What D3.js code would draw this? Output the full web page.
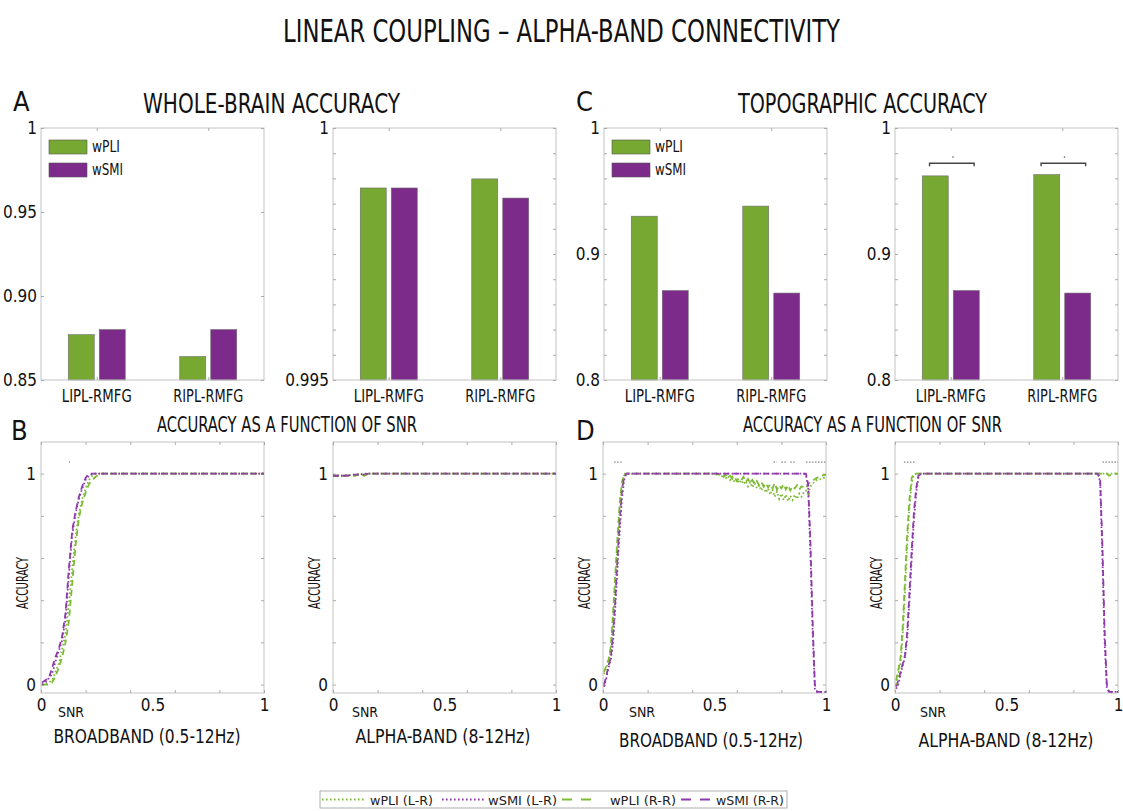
<!DOCTYPE html>
<html>
<head>
<meta charset="utf-8">
<script src="https://cdn.jsdelivr.net/npm/d3@7"></script>
<style>
  body { margin: 0; background: #fff; }
  text {
    font-family: 'Liberation Sans Narrow', 'DejaVu Sans Condensed', 'Liberation Sans', sans-serif;
    font-stretch: condensed;
    fill: #111;
  }
  .legend text { font-family: 'DejaVu Sans', sans-serif; font-stretch: normal; fill: #222; }
</style>
</head>
<body>
<svg id="chart"></svg>
<script>
// Categories and series names
const categories = ['LIPL-RMFG', 'RIPL-RMFG'];
const barSeries = ['wPLI', 'wSMI'];

// A: whole-brain accuracy (left and right sub-panels)
const wholeBrainLeftWPLI = [0.877, 0.864];
const wholeBrainLeftWSMI = [0.880, 0.880];
const wholeBrainRightWPLI = [0.99881, 0.99899];
const wholeBrainRightWSMI = [0.99881, 0.99861];

// C: topographic accuracy
const topoLeftWPLI = [0.930, 0.938];
const topoLeftWSMI = [0.871, 0.869];
const topoRightWPLI = [0.962, 0.963];
const topoRightWSMI = [0.871, 0.869];
const topoRightSignificant = [true, true];

// Bar panel y ticks and labels
const ticksA1 = [0.85, 0.9, 0.95, 1];
const labelsA1 = ['0.85', '0.90', '0.95', '1'];
const ticksA2 = [0.995, 0.9955, 0.996, 0.9965, 0.997, 0.9975, 0.998, 0.9985, 0.999, 0.9995, 1];
const labelsA2 = ['0.995', '', '', '', '', '', '', '', '', '', '1'];
const ticksC = [0.8, 0.82, 0.84, 0.86, 0.88, 0.9, 0.92, 0.94, 0.96, 0.98, 1];
const labelsC = ['0.8', '', '', '', '', '0.9', '', '', '', '', '1'];

// Line panel ticks
const snrTicks = [0, 0.2, 0.4, 0.6, 0.8, 1];
const snrLabels = [0, 0.5, 1];
const accTicks = [0, 0.2, 0.4, 0.6, 0.8, 1];
const accLabels = [0, 1];

// B, broadband
const snrB = [0.005, 0.02, 0.035, 0.05, 0.065, 0.08, 0.095, 0.11, 0.125, 0.14, 0.155, 0.17, 0.185, 0.2,
  0.215, 0.23, 0.245, 0.26, 0.275, 0.29, 0.3, 0.4, 0.5, 0.6, 0.7, 0.8, 0.9, 1.0];
const bBroadPliLR = [0, 0, 0.01, 0.02, 0.06, 0.10, 0.17, 0.24, 0.38, 0.55, 0.70, 0.81, 0.88, 0.93,
  0.97, 0.99, 1, 1, 1, 1, 1, 1, 1, 1, 1, 1, 1, 1];
const bBroadSmiLR = [0, 0.01, 0.03, 0.05, 0.11, 0.16, 0.21, 0.31, 0.52, 0.71, 0.81, 0.88, 0.93, 0.97,
  0.99, 1, 1, 1, 1, 1, 1, 1, 1, 1, 1, 1, 1, 1];
const bBroadPliRR = [0, 0, 0, 0.01, 0.04, 0.08, 0.13, 0.20, 0.30, 0.48, 0.66, 0.79, 0.86, 0.91,
  0.95, 0.97, 0.985, 0.995, 1, 1, 1, 1, 1, 1, 1, 1, 1, 1];
const bBroadSmiRR = [0.01, 0.02, 0.03, 0.08, 0.13, 0.17, 0.23, 0.34, 0.55, 0.73, 0.82, 0.89, 0.94, 0.98,
  1, 1, 1, 1, 1, 1, 1, 1, 1, 1, 1, 1, 1, 1];
const sigBBroad = [[0.125, 0.13]];

// B, alpha-band
const snrBAlpha = [0, 0.05, 0.1, 0.12, 0.14, 0.16, 0.18, 0.2, 0.4, 0.6, 0.8, 1.0];
const bAlphaPliLR = [0.99, 0.99, 0.995, 1.0, 0.995, 1.0, 1, 1, 1, 1, 1, 1];
const bAlphaSmiLR = [0.99, 0.99, 0.995, 0.995, 1, 1, 1, 1, 1, 1, 1, 1];
const bAlphaPliRR = [0.99, 0.99, 0.99, 1.0, 0.99, 1.0, 1, 1, 1, 1, 1, 1];
const bAlphaSmiRR = [0.99, 0.99, 0.995, 0.995, 0.995, 1, 1, 1, 1, 1, 1, 1];
const sigBAlpha = [];

// D, broadband (finer SNR grid where wPLI fluctuates)
const snrDBroad = [0.005, 0.015, 0.025, 0.035, 0.045, 0.055, 0.065, 0.075, 0.085, 0.095, 0.105, 0.115,
  0.2, 0.3, 0.4,
  0.5, 0.51, 0.52, 0.53, 0.54, 0.55, 0.56, 0.57, 0.58, 0.59, 0.6, 0.61, 0.62, 0.63, 0.64, 0.65, 0.66, 0.67, 0.68, 0.69,
  0.7, 0.71, 0.72, 0.73, 0.74, 0.75, 0.76, 0.77, 0.78, 0.79, 0.8, 0.81, 0.82, 0.83, 0.84, 0.85, 0.86, 0.87, 0.88, 0.89, 0.9,
  0.91, 0.92, 0.93, 0.94, 0.95, 0.96, 0.98, 1.0];
const dBroadPliLR = [0.05, 0.08, 0.11, 0.16, 0.30, 0.48, 0.66, 0.82, 0.94, 0.99, 1, 1,
  1, 1, 1,
  1.0, 0.995, 1.0, 0.985, 0.995, 0.975, 0.99, 0.97, 0.985, 0.96, 0.975, 0.955, 0.97, 0.95, 0.965, 0.94, 0.96, 0.935, 0.955, 0.93,
  0.945, 0.92, 0.94, 0.91, 0.93, 0.9, 0.925, 0.89, 0.915, 0.88, 0.905, 0.875, 0.9, 0.87, 0.895, 0.875, 0.9, 0.88, 0.905, 0.89, 0.91,
  0.92, 0.905, 0.94, 0.95, 0.965, 0.97, 0.975, 0.985];
const dBroadPliRR = [0.06, 0.09, 0.12, 0.18, 0.34, 0.52, 0.70, 0.86, 0.96, 1, 1, 1,
  1, 1, 1,
  1.0, 1.0, 0.995, 1.0, 0.985, 0.995, 0.98, 0.99, 0.975, 0.985, 0.965, 0.98, 0.97, 0.985, 0.96, 0.975, 0.955, 0.97, 0.95, 0.965,
  0.945, 0.96, 0.94, 0.955, 0.935, 0.95, 0.93, 0.955, 0.925, 0.945, 0.93, 0.95, 0.925, 0.945, 0.92, 0.94, 0.93, 0.945, 0.925, 0.94, 0.935,
  0.93, 0.95, 0.96, 0.965, 0.975, 0.98, 0.99, 0.995];
const dBroadSmiLR = [-0.01, 0.03, 0.08, 0.12, 0.20, 0.36, 0.55, 0.73, 0.88, 0.97, 1, 1,
  1, 1, 1,
  1, 1, 1, 1, 1, 1, 1, 1, 1, 1, 1, 1, 1, 1, 1, 1, 1, 1, 1, 1,
  1, 1, 1, 1, 1, 1, 1, 1, 1, 1, 1, 1, 1, 1, 1, 1, 1, 1, 1, 1, 1,
  0.995, 0.93, 0.62, 0.25, -0.02, -0.035, -0.035, -0.035];
const dBroadSmiRR = [0.0, 0.04, 0.09, 0.13, 0.24, 0.40, 0.60, 0.78, 0.92, 0.99, 1, 1,
  1, 1, 1,
  1, 1, 1, 1, 1, 1, 1, 1, 1, 1, 1, 1, 1, 1, 1, 1, 1, 1, 1, 1,
  1, 1, 1, 1, 1, 1, 1, 1, 1, 1, 1, 1, 1, 1, 1, 1, 1, 1, 1, 1, 1,
  1, 0.95, 0.68, 0.30, 0.0, -0.035, -0.035, -0.035];
const sigDBroad = [[0.05, 0.085], [0.765, 0.78], [0.8, 0.825], [0.84, 0.86], [0.91, 1.0]];

// D, alpha-band
const snrDAlpha = [0.005, 0.015, 0.025, 0.035, 0.045, 0.055, 0.065, 0.075, 0.085, 0.095, 0.105, 0.115,
  0.2, 0.3, 0.4, 0.5, 0.6, 0.7, 0.8, 0.9,
  0.91, 0.92, 0.93, 0.94, 0.95, 0.96, 0.98, 1.0];
const dAlphaPliLR = [0.0, 0.05, 0.10, 0.24, 0.44, 0.66, 0.84, 0.96, 0.995, 1, 1, 1,
  1, 1, 1, 1, 1, 1, 1, 1,
  1, 1, 1, 1, 1, 1, 1, 1];
const dAlphaPliRR = [0.02, 0.07, 0.13, 0.28, 0.50, 0.72, 0.88, 0.98, 1, 1, 1, 1,
  1, 1, 1, 1, 1, 1, 1, 1,
  1, 1, 1, 1, 1, 0.99, 1, 1];
const dAlphaSmiLR = [-0.02, 0.0, 0.05, 0.09, 0.13, 0.22, 0.40, 0.60, 0.78, 0.91, 0.98, 1,
  1, 1, 1, 1, 1, 1, 1, 1,
  1, 0.96, 0.6, 0.2, -0.02, -0.035, -0.035, -0.035];
const dAlphaSmiRR = [-0.01, 0.02, 0.06, 0.10, 0.14, 0.25, 0.44, 0.64, 0.82, 0.93, 0.99, 1,
  1, 1, 1, 1, 1, 1, 1, 1,
  1, 0.97, 0.66, 0.25, 0.0, -0.035, -0.035, -0.035];
const sigDAlpha = [[0.04, 0.095], [0.93, 1.0]];
const sigLevel = 1.055;

// Colours and line styles
const barGreen = '#77a832';
const barPurple = '#7c2b8b';
const lineGreen = '#7dbb36';
const linePurple = '#8e3aab';
const axisColor = '#c3c3c3';
const dotted = '1.6 2.4';
const dashed = '6 4';

const W = 1123;
const H = 811;

const svg = d3.select('#chart').attr('width', W).attr('height', H);

// Helper for text with a fixed drawn width
function label(x, y, str, size, width, anchor = 'middle') {
  const t = svg.append('text')
    .attr('x', x)
    .attr('y', y)
    .attr('text-anchor', anchor)
    .attr('font-size', size)
    .text(str);
  if (width) t.attr('textLength', width).attr('lengthAdjust', 'spacingAndGlyphs');
  return t;
}

// Box with inward ticks on all four sides
function drawFrame(g, x, y, xTicks, yTicks) {
  const [x0, x1] = x.range();
  const [y1, y0] = y.range();
  g.append('rect')
    .attr('x', x0).attr('y', y0)
    .attr('width', x1 - x0).attr('height', y1 - y0)
    .attr('fill', 'none').attr('stroke', axisColor);

  const tickAxes = [
    [d3.axisBottom(x).tickValues(xTicks), `translate(0,${y0})`],
    [d3.axisTop(x).tickValues(xTicks), `translate(0,${y1})`],
    [d3.axisRight(y).tickValues(yTicks), `translate(${x0},0)`],
    [d3.axisLeft(y).tickValues(yTicks), `translate(${x1},0)`]
  ];
  tickAxes.forEach(([axis, tr]) => {
    const a = g.append('g')
      .attr('transform', tr)
      .call(axis.tickSize(3).tickFormat(''));
    a.select('.domain').remove();
    a.selectAll('line').attr('stroke', '#aaa');
  });
}

// Labelled y axis with no line
function drawYLabels(g, y, x0, values, fmt, size) {
  const a = g.append('g')
    .attr('transform', `translate(${x0},0)`)
    .call(d3.axisLeft(y).tickValues(values).tickFormat(fmt).tickSize(0).tickPadding(4));
  a.select('.domain').remove();
  a.selectAll('text')
    .attr('font-family', null)
    .attr('font-size', size)
    .attr('fill', '#111');
  return a;
}

// Grouped bar panel
function drawBarPanel(p) {
  const g = svg.append('g');
  const x = d3.scaleLinear().domain([0.5, 2.5]).range([p.left, p.left + 223]);
  const y = d3.scaleLinear().domain(p.domain).range([380, 128]);
  const offset = 0.139;
  const bw = 0.233;

  const rows = categories.map((c, i) => ({ i: i + 1, values: [p.wpli[i], p.wsmi[i]] }));

  g.selectAll('.grp')
    .data(rows)
    .join('g')
    .selectAll('rect')
    .data(d => d.values.map((v, k) => ({ cx: d.i + (k === 0 ? -offset : offset), v, k })))
    .join('rect')
    .attr('x', d => x(d.cx - bw / 2))
    .attr('width', d => x(d.cx + bw / 2) - x(d.cx - bw / 2))
    .attr('y', d => y(d.v))
    .attr('height', d => y(p.domain[0]) - y(d.v))
    .attr('fill', d => (d.k === 0 ? barGreen : barPurple))
    .attr('stroke', '#6d6d6d')
    .attr('stroke-width', 0.6);

  drawFrame(g, x, y, [1, 2], p.ticks);

  const labelled = p.ticks.filter((t, i) => p.labels[i] !== '');
  const fmt = v => p.labels[p.ticks.indexOf(v)];
  drawYLabels(g, y, p.left, labelled, fmt, 17);

  // Category labels
  g.selectAll('.cat')
    .data(categories)
    .join('text')
    .attr('x', (d, i) => x(i + 1))
    .attr('y', 402)
    .attr('text-anchor', 'middle')
    .attr('font-size', 17)
    .attr('textLength', 70)
    .attr('lengthAdjust', 'spacingAndGlyphs')
    .text(d => d);

  // Legend inside the box
  if (p.legend) {
    const lg = g.append('g').attr('transform', `translate(${p.left + 8},${140})`);
    barSeries.forEach((s, k) => {
      lg.append('rect')
        .attr('x', 0).attr('y', k * 23)
        .attr('width', 38).attr('height', 14)
        .attr('fill', k === 0 ? barGreen : barPurple)
        .attr('stroke', '#555').attr('stroke-width', 0.6);
      lg.append('text')
        .attr('x', 43).attr('y', k * 23 + 12)
        .attr('font-size', 16)
        .attr('textLength', s === 'wPLI' ? 28 : 31)
        .attr('lengthAdjust', 'spacingAndGlyphs')
        .text(s);
    });
  }

  // Significance brackets
  if (p.sig) {
    p.sig.forEach((s, i) => {
      if (!s) return;
      const bx0 = x(i + 1 - 0.19);
      const bx1 = x(i + 1 + 0.21);
      const by = y(0.972);
      g.append('path')
        .attr('d', `M${bx0},${by + 3}V${by}H${bx1}V${by + 3}`)
        .attr('fill', 'none')
        .attr('stroke', '#444')
        .attr('stroke-width', 1.4);
      g.append('circle')
        .attr('cx', x(i + 1 + 0.02))
        .attr('cy', y(0.977))
        .attr('r', 0.8)
        .attr('fill', '#555');
    });
  }
}

// SNR line panel
function drawLinePanel(p) {
  const g = svg.append('g');
  const x = d3.scaleLinear().domain([0, 1]).range([p.left, p.left + 223]);
  const y = d3.scaleLinear().domain([-0.04, 1.15]).range([693, 442]);

  drawFrame(g, x, y, snrTicks, accTicks);

  // Significance markers
  p.sig.forEach(([a, b]) => {
    g.append('line')
      .attr('x1', x(a)).attr('x2', x(b))
      .attr('y1', y(sigLevel)).attr('y2', y(sigLevel))
      .attr('stroke', '#888')
      .attr('stroke-width', 1.2)
      .attr('stroke-dasharray', '1.5 1.5');
  });

  const line = d3.line()
    .x(d => x(d[0]))
    .y(d => y(d[1]));

  p.series.forEach(s => {
    g.append('path')
      .datum(p.snr.map((v, i) => [v, s.values[i]]))
      .attr('d', line)
      .attr('fill', 'none')
      .attr('stroke', s.color)
      .attr('stroke-width', 1.8)
      .attr('stroke-dasharray', s.dash);
  });

  drawYLabels(g, y, p.left - 1, accLabels, d3.format('d'), 17);

  const xa = g.append('g')
    .attr('transform', `translate(0,${695})`)
    .call(d3.axisBottom(x).tickValues(snrLabels).tickFormat(d => (d === 0.5 ? '0.5' : d)).tickSize(0).tickPadding(4));
  xa.select('.domain').remove();
  xa.selectAll('text')
    .attr('font-family', null)
    .attr('font-size', 17)
    .attr('fill', '#111');

  g.append('text')
    .attr('x', p.left + p.snrOffset)
    .attr('y', 717)
    .attr('text-anchor', 'middle')
    .attr('font-size', 14)
    .text('SNR');

  g.append('text')
    .attr('transform', `translate(${p.left - 13},583) rotate(-90)`)
    .attr('text-anchor', 'middle')
    .attr('font-size', 15)
    .attr('textLength', 52)
    .attr('lengthAdjust', 'spacingAndGlyphs')
    .text('ACCURACY');

  label(p.left + p.xlabelShift, p.xlabelY, p.xlabel, 20, p.xlabelWidth);
}

// Titles
label(561.5, 42, 'LINEAR COUPLING \u2013 ALPHA-BAND CONNECTIVITY', 32, 557);
label(271.5, 113, 'WHOLE-BRAIN ACCURACY', 26, 257);
label(862.5, 113, 'TOPOGRAPHIC ACCURACY', 26, 249);
label(287, 432, 'ACCURACY AS A FUNCTION OF SNR', 21, 260);
label(872.5, 432, 'ACCURACY AS A FUNCTION OF SNR', 21, 259);
label(13, 111, 'A', 27, null, 'start');
label(576, 111, 'C', 27, null, 'start');
label(11, 440, 'B', 27, null, 'start');
label(576, 440, 'D', 27, null, 'start');

// Bar panels
drawBarPanel({ left: 41, domain: [0.85, 1], ticks: ticksA1, labels: labelsA1,
  wpli: wholeBrainLeftWPLI, wsmi: wholeBrainLeftWSMI, legend: true });
drawBarPanel({ left: 333, domain: [0.995, 1], ticks: ticksA2, labels: labelsA2,
  wpli: wholeBrainRightWPLI, wsmi: wholeBrainRightWSMI });
drawBarPanel({ left: 604, domain: [0.8, 1], ticks: ticksC, labels: labelsC,
  wpli: topoLeftWPLI, wsmi: topoLeftWSMI, legend: true });
drawBarPanel({ left: 895, domain: [0.8, 1], ticks: ticksC, labels: labelsC,
  wpli: topoRightWPLI, wsmi: topoRightWSMI, sig: topoRightSignificant });

// Line panels
const seriesOf = (pliLR, smiLR, pliRR, smiRR) => [
  { values: pliRR, color: lineGreen, dash: dashed },
  { values: smiRR, color: linePurple, dash: dashed },
  { values: pliLR, color: lineGreen, dash: dotted },
  { values: smiLR, color: linePurple, dash: dotted }
];

drawLinePanel({ left: 41, snr: snrB, sig: sigBBroad, snrOffset: 30,
  series: seriesOf(bBroadPliLR, bBroadSmiLR, bBroadPliRR, bBroadSmiRR),
  xlabel: 'BROADBAND (0.5-12Hz)', xlabelShift: 106, xlabelY: 743, xlabelWidth: 187 });
drawLinePanel({ left: 333, snr: snrBAlpha, sig: sigBAlpha, snrOffset: 32,
  series: seriesOf(bAlphaPliLR, bAlphaSmiLR, bAlphaPliRR, bAlphaSmiRR),
  xlabel: 'ALPHA-BAND (8-12Hz)', xlabelShift: 110, xlabelY: 743, xlabelWidth: 175 });
drawLinePanel({ left: 603, snr: snrDBroad, sig: sigDBroad, snrOffset: 39,
  series: seriesOf(dBroadPliLR, dBroadSmiLR, dBroadPliRR, dBroadSmiRR),
  xlabel: 'BROADBAND (0.5-12Hz)', xlabelShift: 108, xlabelY: 747, xlabelWidth: 184 });
drawLinePanel({ left: 895, snr: snrDAlpha, sig: sigDAlpha, snrOffset: 38,
  series: seriesOf(dAlphaPliLR, dAlphaSmiLR, dAlphaPliRR, dAlphaSmiRR),
  xlabel: 'ALPHA-BAND (8-12Hz)', xlabelShift: 111, xlabelY: 747, xlabelWidth: 175 });

// Bottom legend
const legendItems = [
  { name: 'wPLI (L-R)', color: lineGreen, dash: dotted, x: 322, w: 42, tx: 370, tw: 63 },
  { name: 'wSMI (L-R)', color: linePurple, dash: dotted, x: 442, w: 42, tx: 488, tw: 69 },
  { name: 'wPLI (R-R)', color: lineGreen, dash: '10 9', x: 562, w: 29, tx: 610, tw: 66 },
  { name: 'wSMI (R-R)', color: linePurple, dash: '10 9', x: 681, w: 29, tx: 716, tw: 68 }
];
const legend = svg.append('g').attr('class', 'legend');
legend.append('rect')
  .attr('x', 320).attr('y', 791)
  .attr('width', 467).attr('height', 17)
  .attr('fill', '#fff').attr('stroke', '#9a9a9a').attr('stroke-width', 0.8);
legendItems.forEach(it => {
  legend.append('line')
    .attr('x1', it.x).attr('x2', it.x + it.w)
    .attr('y1', 799.5).attr('y2', 799.5)
    .attr('stroke', it.color)
    .attr('stroke-width', 2)
    .attr('stroke-dasharray', it.dash);
  legend.append('text')
    .attr('x', it.tx).attr('y', 804.5)
    .attr('font-size', 13)
    .attr('textLength', it.tw)
    .attr('lengthAdjust', 'spacingAndGlyphs')
    .text(it.name);
});
</script>
</body>
</html>
